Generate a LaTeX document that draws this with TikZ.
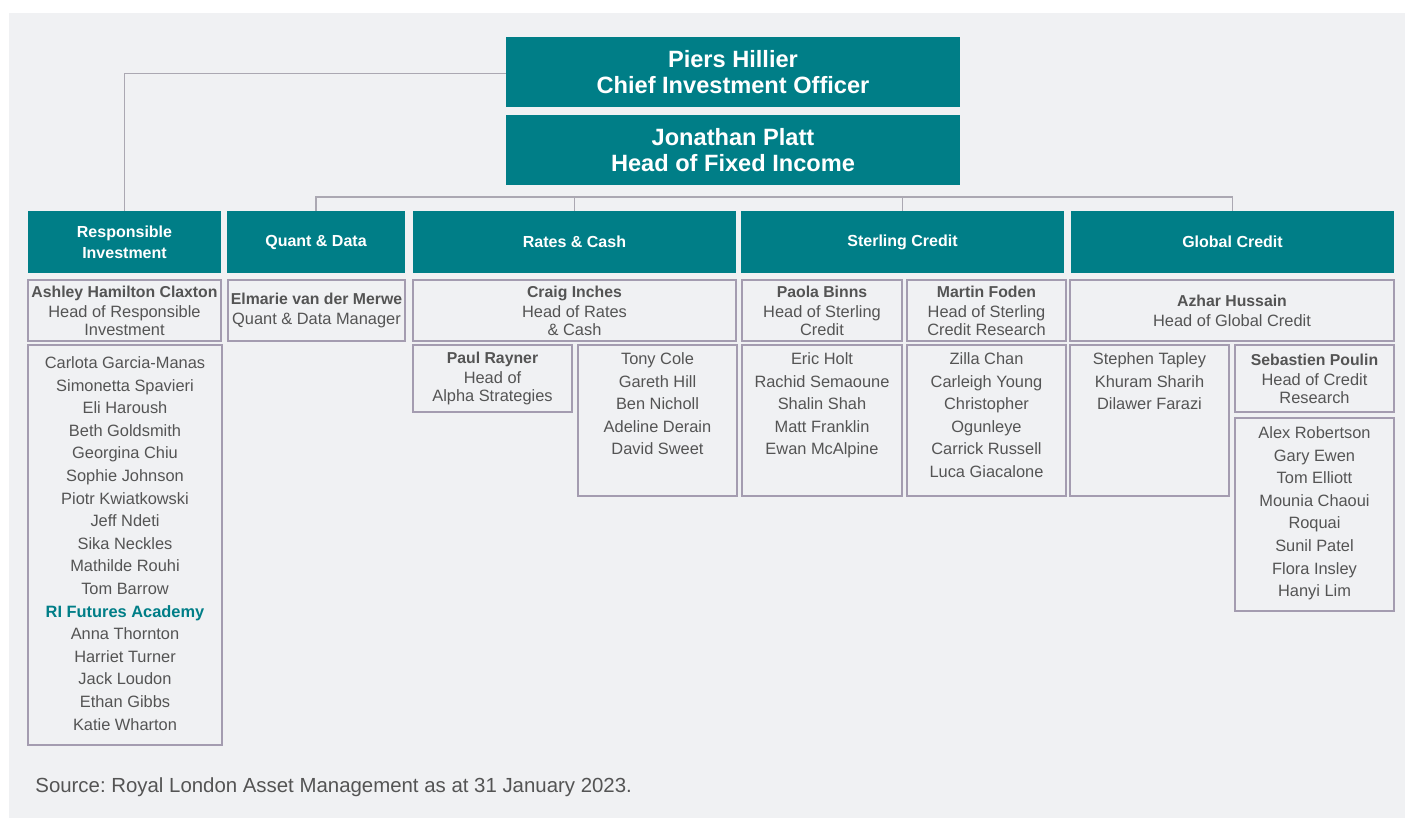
\documentclass[tikz,border=0pt]{standalone}
\usepackage{fontspec}
\setmainfont{Liberation Sans}
\frenchspacing
\definecolor{teal1}{HTML}{007E87}
\definecolor{bgc}{HTML}{F0F1F3}
\definecolor{txt}{HTML}{545454}
\definecolor{bord}{HTML}{A49CB0}
\definecolor{connc}{HTML}{ABA8B2}
\newcommand\nm[1]{{\bfseries\fontsize{7.9}{9}\selectfont #1}}
\tikzset{
  topbox/.style={fill=teal1, text=white, draw=none, inner sep=0pt, align=center,
    font=\bfseries\fontsize{11.8}{13}\selectfont, minimum width=227pt, minimum height=35pt},
  hdr/.style={fill=teal1, text=white, draw=none, inner sep=0pt, align=center,
    font=\bfseries\fontsize{8}{10.5}\selectfont, minimum height=31pt},
  card/.style={draw=bord, line width=0.75pt, inner sep=0pt, align=center, text=txt,
    font=\fontsize{8.2}{9}\selectfont},
  lst/.style={text=txt, inner sep=0pt, align=center, anchor=north,
    font=\fontsize{8.2}{11.3}\selectfont},
  conn/.style={draw=connc, line width=0.75pt}
}
\begin{document}
\begin{tikzpicture}[x=0.5pt, y=-0.5pt]
\useasboundingbox (0,0) rectangle (1405,818);
\fill[white] (0,0) rectangle (1405,818);
\fill[bgc] (9,13) rectangle (1405,818);

% top boxes
\node[topbox] (piers) at (733,72) {Piers Hillier\\Chief Investment Officer};
\node[topbox] (jon) at (733,150) {Jonathan Platt\\Head of Fixed Income};

% headers
\node[hdr, minimum width=96.5pt] (hRI) at (124.5,242) {Responsible\\Investment};
\node[hdr, minimum width=89pt] (hQD) at (316,242) {Quant \& Data};
\node[hdr, minimum width=161.5pt] (hRC) at (574.5,242) {Rates \& Cash};
\node[hdr, minimum width=161.5pt] (hSC) at (902.5,242) {Sterling Credit};
\node[hdr, minimum width=161.5pt] (hGC) at (1232.5,242) {Global Credit};

% connectors
\draw[conn] ([yshift=-0.7pt]piers.west) -| (hRI.north);
\coordinate (bus) at (733,197);
\draw[conn] (hQD.north) |- (bus) -| (hGC.north);
\draw[conn] (hRC.north) -- (hRC.north |- bus);
\draw[conn] (hSC.north) -- (hSC.north |- bus);

% second row
\node[card, minimum width=96.5pt, minimum height=30.5pt] (ashley) at (124.5,310.5)
  {\nm{Ashley Hamilton Claxton}\\[1pt]Head of Responsible\\Investment};
\node[card, minimum width=88.5pt, minimum height=30.5pt] (elmarie) at (316.5,310.5)
  {\nm{Elmarie van der Merwe}\\[1pt]Quant \& Data Manager};
\node[card, minimum width=161.5pt, minimum height=30.5pt] (craig) at (574.5,310.5)
  {\nm{Craig Inches}\\[1pt]Head of Rates\\\& Cash};
\node[card, minimum width=80pt, minimum height=30.5pt] (paola) at (822,310.5)
  {\nm{Paola Binns}\\[1pt]Head of Sterling\\Credit};
\node[card, minimum width=79.5pt, minimum height=30.5pt] (martin) at (986.5,310.5)
  {\nm{Martin Foden}\\[1pt]Head of Sterling\\Credit Research};
\node[card, minimum width=162pt, minimum height=30.5pt] (azhar) at (1232,310.5)
  {\nm{Azhar Hussain}\\[1pt]Head of Global Credit};

% third row boxes
\node[card, minimum width=97pt, minimum height=200pt] (riL) at (125,545) {};
\node[card, minimum width=79.5pt, minimum height=33.5pt] (paul) at (492.5,378.5)
  {\nm{Paul Rayner}\\[1pt]Head of\\Alpha Strategies};
\node[card, minimum width=79.5pt, minimum height=75.5pt] (tonyB) at (657.5,420.5) {};
\node[card, minimum width=80pt, minimum height=75.5pt] (ericB) at (822,420.5) {};
\node[card, minimum width=79.5pt, minimum height=75.5pt] (zillaB) at (986.5,420.5) {};
\node[card, minimum width=79.5pt, minimum height=75.5pt] (stephB) at (1149.5,420.5) {};
\node[card, minimum width=79.5pt, minimum height=33.5pt] (seb) at (1314.5,378.5)
  {\nm{Sebastien Poulin}\\[1pt]Head of Credit\\Research};
\node[card, minimum width=79.5pt, minimum height=96.5pt] (alexB) at (1314.5,514.5) {};

% list texts
\node[lst] (riT) at ([yshift=-6pt]riL.north) {Carlota Garcia-Manas\\Simonetta Spavieri\\Eli Haroush\\Beth Goldsmith\\Georgina Chiu\\Sophie Johnson\\Piotr Kwiatkowski\\Jeff Ndeti\\Sika Neckles\\Mathilde Rouhi\\Tom Barrow\\\textcolor{teal1}{\textbf{RI Futures Academy}}\\Anna Thornton\\Harriet Turner\\Jack Loudon\\Ethan Gibbs\\Katie Wharton};
\node[lst] (tonyT) at ([yshift=-4pt]tonyB.north) {Tony Cole\\Gareth Hill\\Ben Nicholl\\Adeline Derain\\David Sweet};
\node[lst] (ericT) at ([yshift=-4pt]ericB.north) {Eric Holt\\Rachid Semaoune\\Shalin Shah\\Matt Franklin\\Ewan McAlpine};
\node[lst] (zillaT) at ([yshift=-4pt]zillaB.north) {Zilla Chan\\Carleigh Young\\Christopher\\Ogunleye\\Carrick Russell\\Luca Giacalone};
\node[lst] (stephT) at ([yshift=-4pt]stephB.north) {Stephen Tapley\\Khuram Sharih\\Dilawer Farazi};
\node[lst] (alexT) at ([yshift=-4.5pt]alexB.north) {Alex Robertson\\Gary Ewen\\Tom Elliott\\Mounia Chaoui\\Roquai\\Sunil Patel\\Flora Insley\\Hanyi Lim};

% source
\node[anchor=west, inner sep=0pt, text=txt, font=\fontsize{10.2}{12}\selectfont] (src) at (35,787)
  {Source: Royal London Asset Management as at 31 January 2023.};
\end{tikzpicture}
\end{document}
